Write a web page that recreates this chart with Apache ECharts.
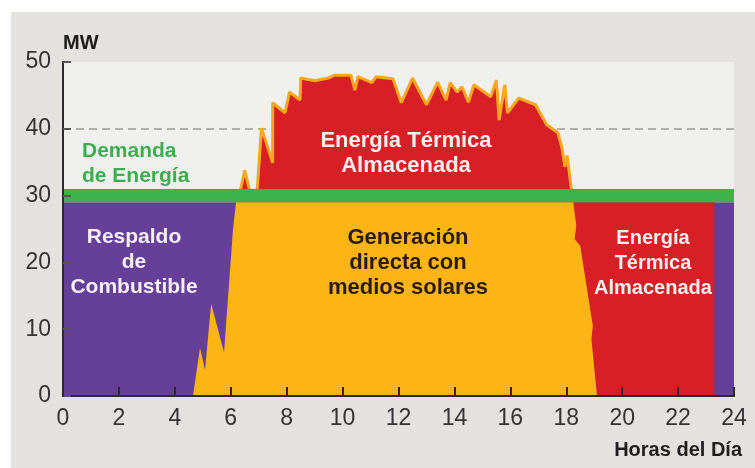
<!DOCTYPE html>
<html>
<head>
<meta charset="utf-8">
<script src="https://cdn.jsdelivr.net/npm/echarts@6/dist/echarts.min.js"></script>
<style>
  html, body { margin: 0; padding: 0; background: #fff; }
  #chart { width: 755px; height: 468px; }
</style>
</head>
<body>
<div id="chart"></div>
<script>
// datos (horas del dia / MW)
var xTicks = [0, 24, 2];      // min, max, intervalo
var yTicks = [0, 50, 10];

// respaldo de combustible (fondo morado)
var backupHours = [0, 24];
var backupMW = [29, 29];

// demanda de energia (banda verde)
var demandLow = 29;
var demandHigh = 31;
var demandRef = 40;   // linea discontinua

// generacion directa con medios solares
var solarHours = [4.65, 4.9, 5.08, 5.3, 5.76, 6.08, 6.19, 18.25, 18.36, 18.3, 18.5, 18.95, 18.9, 19.1];
var solarMW = [0, 7.2, 3.9, 13.8, 6.5, 24.9, 29, 29, 25.5, 23.5, 22.5, 10.5, 8.5, 0];

// energia termica almacenada (de dia, encima de la demanda)
var thermalDayHours = [6.33, 6.5, 6.69, 6.94, 7.1, 7.5, 7.5, 7.94, 8.1, 8.48, 8.5, 9.0, 9.48, 9.7, 10.3, 10.44, 10.55,
  11.05, 11.2, 11.8, 12.1, 12.5, 13.0, 13.4, 13.7, 13.85, 14.1, 14.27, 14.5, 14.7, 15.3, 15.5, 15.6, 15.8, 15.9,
  16.3, 16.9, 17.3, 17.7, 17.85, 17.95, 18.03, 18.2];
var thermalDayMW = [30.5, 33.8, 30.5, 30.5, 40.1, 34.9, 43.9, 42.4, 45.5, 44.3, 47.6, 47.2, 47.6, 48.0, 48.0, 45.8, 47.8,
  46.9, 47.8, 47.5, 43.9, 47.6, 43.6, 47.0, 44.3, 46.9, 45.5, 46.3, 44.0, 46.6, 44.8, 47.3, 41.3, 46.6, 42.4,
  44.6, 43.6, 40.6, 39.4, 37.1, 34.3, 36.0, 30.5];

// energia termica almacenada (de noche)
var thermalNightHours = [18.2, 23.3];
var thermalNightMW = [29, 29];

function pairs(xs, ys) {
  return xs.map(function (x, i) { return [x, ys[i]]; });
}

var labelFont = 'Liberation Sans, Arial, sans-serif';

function block(x, y, text, color, size) {
  return {
    type: 'text', x: x, y: y, z: 20,
    style: {
      text: text, fill: color, font: 'bold ' + size + 'px ' + labelFont,
      align: 'center', verticalAlign: 'middle', lineHeight: 25
    }
  };
}

var option = {
  animation: false,
  backgroundColor: '#e4e2de',
  grid: {
    left: 63, top: 62, right: 21, bottom: 72,
    show: true, backgroundColor: '#f0f0ef', borderWidth: 0
  },
  xAxis: [{
    type: 'value', min: xTicks[0], max: xTicks[1], interval: xTicks[2], z: 10,
    axisLine: { lineStyle: { color: '#2a2a2a', width: 2 } },
    axisTick: { inside: true, length: 9, lineStyle: { color: '#2a2a2a', width: 2 } },
    axisLabel: { fontSize: 23, color: '#333', margin: 11, fontFamily: labelFont },
    splitLine: { show: false }
  }, {
    type: 'value', position: 'top', min: xTicks[0], max: xTicks[1], z: 10,
    axisLine: { show: true, lineStyle: { color: '#2a2a2a', width: 2 } },
    axisTick: { show: false }, axisLabel: { show: false }, splitLine: { show: false }
  }],
  yAxis: [{
    type: 'value', min: yTicks[0], max: yTicks[1], interval: yTicks[2], z: 10,
    name: 'MW', nameLocation: 'end', nameGap: 9,
    nameTextStyle: { align: 'left', verticalAlign: 'bottom', fontWeight: 'bold', fontSize: 20, color: '#1e1e1e', fontFamily: labelFont },
    axisLine: { show: true, lineStyle: { color: '#2a2a2a', width: 2 } },
    axisTick: { show: true, inside: true, length: 8, lineStyle: { color: '#555', width: 2 } },
    axisLabel: { fontSize: 23, color: '#333', margin: 12, fontFamily: labelFont },
    splitLine: { show: false }
  }, {
    type: 'value', position: 'right', min: yTicks[0], max: yTicks[1], z: 10,
    axisLine: { show: true, lineStyle: { color: '#2a2a2a', width: 2 } },
    axisTick: { show: false }, axisLabel: { show: false }, splitLine: { show: false }
  }],
  series: [
    {
      name: 'Respaldo de Combustible', type: 'line', z: 1,
      data: pairs(backupHours, backupMW), symbol: 'none',
      lineStyle: { width: 0 }, areaStyle: { color: '#653f98', opacity: 1 },
      markLine: {
        silent: true, symbol: 'none', z: 1.5,
        label: { show: false },
        lineStyle: { color: '#9a9a9a', type: [8, 5], width: 1.5 },
        data: [{ yAxis: demandRef }]
      }
    },
    {
      name: 'Energía Térmica Almacenada (noche)', type: 'line', z: 2,
      data: pairs(thermalNightHours, thermalNightMW), symbol: 'none',
      lineStyle: { width: 0 }, areaStyle: { color: '#d71f26', opacity: 1 }
    },
    {
      name: 'Energía Térmica Almacenada', type: 'line', z: 2,
      data: pairs(thermalDayHours, thermalDayMW), symbol: 'none',
      lineStyle: { width: 3, color: '#f7a81f' }, areaStyle: { color: '#d71f26', opacity: 1 }
    },
    {
      name: 'Generación directa con medios solares', type: 'line', z: 3,
      data: pairs(solarHours, solarMW), symbol: 'none',
      lineStyle: { width: 0 }, areaStyle: { color: '#fdb515', opacity: 1 },
      markArea: {
        silent: true, z: 4,
        itemStyle: { color: '#3cb34a', opacity: 1 },
        data: [[{ xAxis: xTicks[0], yAxis: demandLow }, { xAxis: xTicks[1], yAxis: demandHigh }]]
      }
    }
  ],
  graphic: [
    { type: 'rect', shape: { x: 0, y: 0, width: 755, height: 12 }, style: { fill: '#fff' }, z: 0 },
    { type: 'rect', shape: { x: 0, y: 0, width: 11, height: 468 }, style: { fill: '#fff' }, z: 0 },
    {
      type: 'text', x: 82, y: 164, z: 20,
      style: { text: 'Demanda\nde Energía', fill: '#3cae50', font: 'bold 21px ' + labelFont,
        align: 'left', verticalAlign: 'middle', lineHeight: 25 }
    },
    block(406, 153, 'Energía Térmica\nAlmacenada', '#f7eef0', 22),
    block(408, 263, 'Generación\ndirecta con\nmedios solares', '#2a1c0c', 22),
    block(134, 262, 'Respaldo\nde\nCombustible', '#f7f0f6', 21),
    block(653, 263, 'Energía\nTérmica\nAlmacenada', '#f7eef0', 20),
    {
      type: 'text', x: 742, y: 450, z: 20,
      style: { text: 'Horas del Día', fill: '#1e1e1e', font: 'bold 20px ' + labelFont,
        align: 'right', verticalAlign: 'middle' }
    }
  ]
};

var myChart = echarts.init(document.getElementById('chart'));
myChart.setOption(option);
</script>
</body>
</html>
